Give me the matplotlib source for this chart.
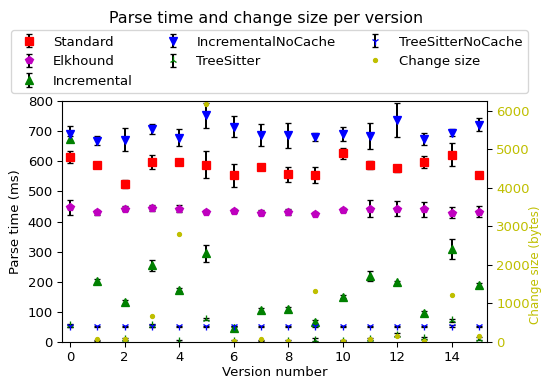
import numpy as np
import matplotlib
matplotlib.use('Agg')
import matplotlib.pyplot as plt

versions = list(range(16))

# parse times (ms) and error bars
standard = [614, 589, 525, 597, 598, 589, 553, 581, 557, 554, 626, 587, 577, 598, 622, 554]
standard_err = [21, 8, 14, 24, 8, 45, 38, 6, 25, 27, 18, 14, 12, 20, 38, 11]

elkhound = [447, 431, 443, 444, 442, 432, 434, 429, 431, 426, 438, 443, 443, 440, 429, 432]
elkhound_err = [26, 8, 7, 10, 12, 5, 7, 8, 10, 6, 8, 27, 25, 24, 18, 18]

incremental = [674, 201, 133, 255, 174, 295, 46, 107, 110, 65, 151, 219, 198, 96, 309, 190]
incremental_err = [10, 8, 6, 18, 6, 28, 6, 6, 6, 8, 6, 16, 6, 6, 32, 6]

incremental_nocache = [691, 668, 672, 706, 678, 752, 715, 686, 686, 681, 690, 683, 737, 675, 695, 722]
incremental_nocache_err = [25, 15, 38, 17, 29, 41, 36, 37, 42, 13, 24, 43, 55, 20, 12, 23]

treesitter = [55, 5, 10, 55, 4, 76, 3, 5, 4, 8, 5, 10, 24, 14, 72, 11]
treesitter_err = [4, 3, 4, 4, 3, 4, 3, 3, 3, 4, 3, 4, 5, 4, 6, 4]

treesitter_nocache = [54, 52, 52, 54, 52, 52, 52, 52, 52, 52, 52, 52, 52, 52, 53, 52]
treesitter_nocache_err = [3, 2, 2, 3, 2, 2, 2, 2, 2, 2, 2, 2, 2, 2, 4, 2]

# change size in bytes
change_size = [np.nan, 80, 80, 680, 2810, 6180, 30, 80, 20, 1320, 20, 80, 165, 30, 1225, 165]

dpi = 95
fig = plt.figure(figsize=(542 / dpi, 378 / dpi), dpi=dpi)
ax = fig.add_axes([0.1144, 0.0952, 0.7841, 0.6376])

ax.errorbar(versions, standard, yerr=standard_err, fmt='rs', ecolor='k', capsize=2.5, label='Standard')
ax.errorbar(versions, elkhound, yerr=elkhound_err, fmt='mp', ecolor='k', capsize=2.5, label='Elkhound')
ax.errorbar(versions, incremental, yerr=incremental_err, fmt='g^', ecolor='k', capsize=2.5, label='Incremental')
ax.errorbar(versions, incremental_nocache, yerr=incremental_nocache_err, fmt='bv', ecolor='k', capsize=2.5,
            label='IncrementalNoCache')
ax.errorbar(versions, treesitter, yerr=treesitter_err, fmt='g2', ecolor='k', capsize=2.5, label='TreeSitter')
ax.errorbar(versions, treesitter_nocache, yerr=treesitter_nocache_err, fmt='b1', ecolor='k', capsize=2.5,
            label='TreeSitterNoCache')

ax.set_xlim(-0.3, 15.3)
ax.set_ylim(0, 800)
ax.set_xticks(range(0, 16, 2))
ax.set_xlabel('Version number', labelpad=1)
ax.set_ylabel('Parse time (ms)')

ax2 = ax.twinx()
ax2.plot(versions, change_size, 'y.', label='Change size')
ax2.set_ylim(0, 6250)
ax2.set_ylabel('Change size (bytes)', color='y', fontsize=9)
ax2.yaxis.set_label_coords(1.098, 0.32)
ax2.tick_params(axis='y', labelcolor='y')

h1, l1 = ax.get_legend_handles_labels()
h2, l2 = ax2.get_legend_handles_labels()
fig.legend(h1 + h2, l1 + l2, loc='upper center', bbox_to_anchor=(0.497, 0.92), ncol=3,
           borderaxespad=0)

fig.suptitle('Parse time and change size per version', x=0.49, y=0.97)

fig.savefig('out.png', dpi=dpi)
